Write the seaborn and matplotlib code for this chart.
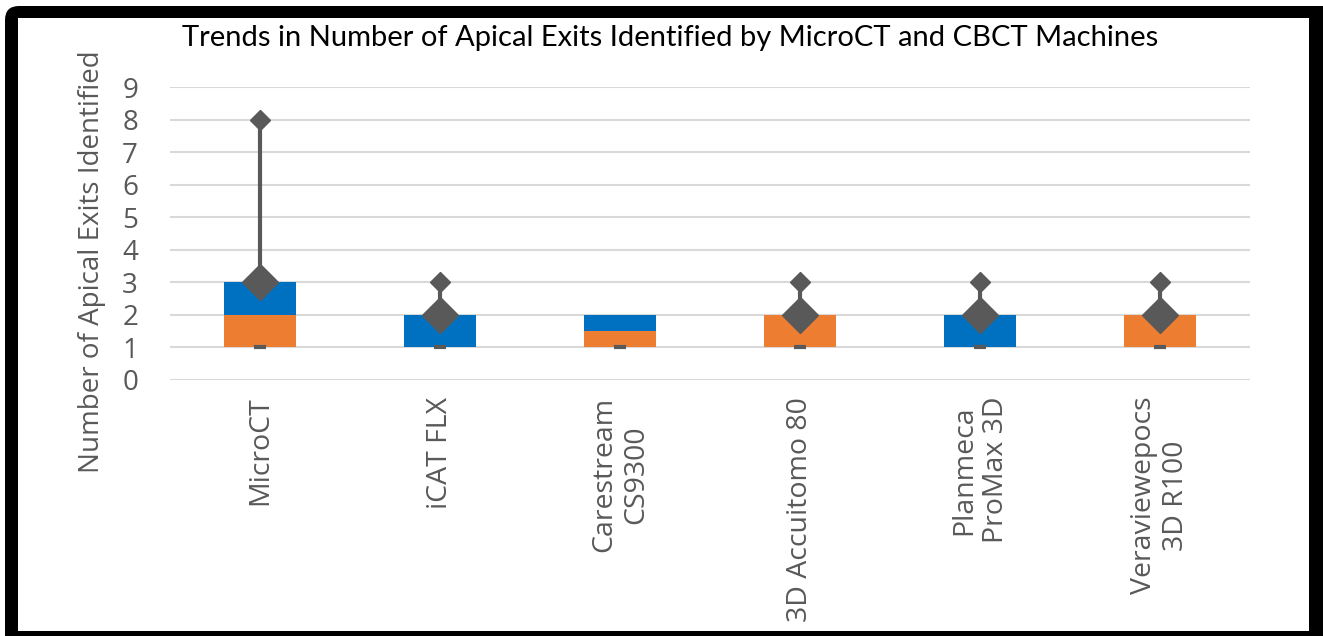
import numpy as np
import pandas as pd
import matplotlib
matplotlib.use("Agg")
import matplotlib.pyplot as plt
from matplotlib.patches import FancyBboxPatch, Rectangle
import seaborn as sns

# box-plot statistics per machine (Excel-style stacked-bar box plot)
categories = ["MicroCT", "iCAT FLX", "Carestream\nCS9300", "3D Accuitomo 80",
              "Planmeca\nProMax 3D", "Veraviewepocs\n3D R100"]
q1_vals = [1, 1, 1, 1, 1, 1]
median_vals = [2, 1, 1.5, 2, 1, 2]
q3_vals = [3, 2, 2, 2, 2, 2]
max_vals = [8, 3, np.nan, 3, 3, 3]
mean_vals = [3, 2, np.nan, 2, 2, 2]
min_vals = [1, 1, 1, 1, 1, 1]

BLUE = "#0070C0"
ORANGE = "#ED7D31"
GRAY = "#595959"
GRID = "#D9D9D9"

sns.set_theme(style="white")
plt.rcParams["font.family"] = ["Open Sans", "DejaVu Sans"]

df = pd.DataFrame({
    "machine": categories,
    "q1": q1_vals, "median": median_vals, "q3": q3_vals,
    "max": max_vals, "mean": mean_vals, "min": min_vals,
})
df["lower"] = df["median"] - df["q1"]
df["upper"] = df["q3"] - df["median"]

W, H = 1323, 636
fig = plt.figure(figsize=(W / 100, H / 100), dpi=100)

# black frame around the chart
fig.patches.append(FancyBboxPatch((5, -30), W + 30, H - 6 + 30, boxstyle="round,pad=0,rounding_size=14",
                                  transform=None, facecolor="black", edgecolor="none", zorder=-2))
fig.patches.append(Rectangle((18, 5), 1309 - 18, 618 - 5, transform=None,
                             facecolor="white", edgecolor="none", zorder=-1))

ax = fig.add_axes([170 / W, (H - 380) / H, (1250 - 170) / W, (380 - 87) / H])
ax.set_facecolor("none")

sns.barplot(data=df, x="machine", y="lower", bottom=df["q1"], color=ORANGE,
            width=0.4, saturation=1, linewidth=0, ax=ax, zorder=2)
sns.barplot(data=df, x="machine", y="upper", bottom=df["median"], color=BLUE,
            width=0.4, saturation=1, linewidth=0, ax=ax, zorder=2)

# whiskers from Q3 up to the maximum
x = np.arange(len(df))
ax.vlines(x, df["q3"], df["max"], color=GRAY, lw=3, zorder=3)
ax.plot(x, df["min"], ls="none", marker="_", ms=9, mew=3, color=GRAY, zorder=3)
ax.plot(x, df["max"], ls="none", marker="D", ms=10, color=GRAY, zorder=4)
ax.plot(x, df["mean"], ls="none", marker="D", ms=18, color=GRAY, zorder=4)

ax.set_xlim(-0.5, len(df) - 0.5)
ax.set_ylim(0, 9)
ax.set_yticks(range(0, 10))
ax.yaxis.grid(True, color=GRID, lw=1.5, zorder=0)
ax.set_axisbelow(True)
for s in ax.spines.values():
    s.set_visible(False)

ax.tick_params(axis="y", length=0, pad=23, labelsize=20, labelcolor=GRAY)
ax.tick_params(axis="x", length=0, pad=12)
ax.set_xticks(x)
ax.set_xticklabels(categories, rotation=90, fontsize=20.5, color=GRAY,
                   ha="center", va="top", multialignment="center")
ax.set_xlabel("")
ax.set_ylabel("Number of Apical Exits Identified", fontsize=20, color=GRAY)
ax.yaxis.set_label_coords((106 - 170) / 1080, (380 - 262) / 293)

fig.text(670 / W, 1 - 38 / H, "Trends in Number of Apical Exits Identified by MicroCT and CBCT Machines",
         ha="center", va="center", fontsize=21, color="black", family=["Lato", "DejaVu Sans"])

fig.savefig("out.png", dpi=100)
